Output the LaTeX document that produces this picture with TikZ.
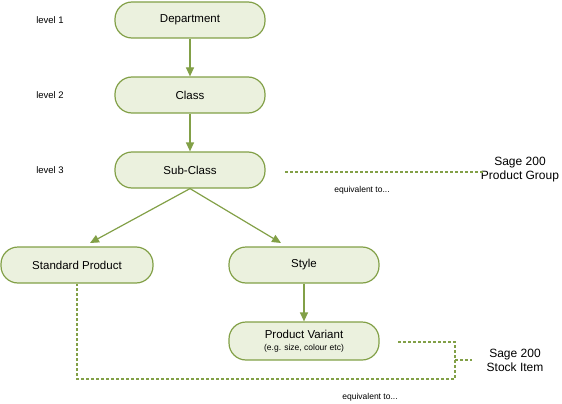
\documentclass[tikz,border=0pt]{standalone}
\usepackage{fontspec}
\setmainfont{Liberation Sans}
\usetikzlibrary{arrows.meta,positioning}
\definecolor{leafgreen}{HTML}{82A047}
\definecolor{leaffill}{HTML}{EBF1DE}
\tikzset{
  levelbox/.style={draw=leafgreen, fill=leaffill, line width=1.2pt, rounded corners=17pt,
    minimum width=150pt, minimum height=36pt, inner sep=0pt, font=\fontsize{11.5}{13}\selectfont, align=center},
  levellbl/.style={font=\fontsize{9.5}{11}\selectfont},
  sagelbl/.style={font=\fontsize{12}{14}\selectfont, align=center},
  eqlbl/.style={font=\fontsize{8.5}{10}\selectfont},
  flow/.style={draw=leafgreen, line width=1.2pt, -{Triangle[length=9pt,width=8pt]}},
  equiv/.style={draw=leafgreen, line width=1.4pt, dash pattern=on 3pt off 2pt},
}
\begin{document}
\begin{tikzpicture}[x=1pt, y=-1pt]
  \useasboundingbox (0,0) rectangle (562,404);
  % 层级标签
  \node[levellbl] (lv1) at (50,20) {level 1};
  \node[levellbl] (lv2) at (50,95) {level 2};
  \node[levellbl] (lv3) at (50,170) {level 3};

  % 主层级
  \node[levelbox] (dept) at (190,20) {Department};
  \node[levelbox] (cls) at (190,95) {Class};
  \node[levelbox] (sub) at (190,170) {Sub-Class};
  \node[levelbox, minimum width=152pt] (std) at (77,265) {Standard Product};
  \node[levelbox] (sty) at (304,265) {Style};
  \node[levelbox, minimum height=38pt] (var) at (304,341) {Product Variant\\[-1pt]{\fontsize{8.5}{10}\selectfont (e.g. size, colour etc)}};

  \draw[flow] (dept) -- (cls);
  \draw[flow] (cls) -- (sub);
  \draw[flow] (sub.south) -- (90,243);
  \draw[flow] (sub.south) -- (281,243);
  \draw[flow] (sty) -- (var);

  % Sage 200 对应关系
  \node[sagelbl] (grp) at (520,170) {Sage 200\\Product Group};
  \node[eqlbl] (eq1) at (362,190) {equivalent to...};
  \coordinate (g0) at (285,172);
  \coordinate (g1) at (484,172);
  \draw[equiv] (g0) -- (g1);

  \node[sagelbl] (itm) at (515,360) {Sage 200\\Stock Item};
  \node[eqlbl] (eq2) at (370,397) {equivalent to...};
  \coordinate (v0) at (398,342);
  \coordinate (jn) at (455,342);
  \coordinate (jb) at (455,379);
  \coordinate (jm) at (455,360);
  \coordinate (jr) at (472,360);
  \draw[equiv] (v0) -- (jn) -- (jb) -| (std.south);
  \draw[equiv] (jm) -- (jr);
\end{tikzpicture}
\end{document}
